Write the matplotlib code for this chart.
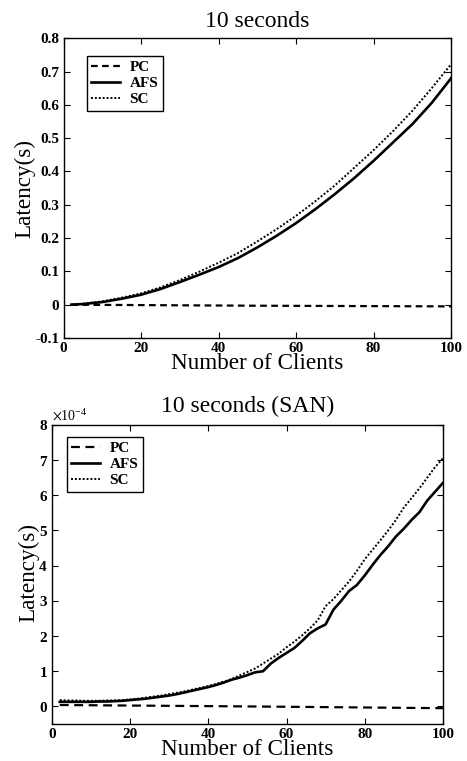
import numpy as np
import matplotlib
matplotlib.use('Agg')
import matplotlib.pyplot as plt
from matplotlib.ticker import FuncFormatter

plt.rcParams['font.family'] = ['Liberation Serif', 'DejaVu Serif']
plt.rcParams['mathtext.fontset'] = 'stix'

# top panel (10 seconds)
x_top = [2, 5, 10, 15, 20, 25, 30, 35, 40, 45, 50, 55, 60, 65, 70, 75, 80, 85, 90, 95, 100]
afs_top = [0.0, 0.002, 0.008, 0.018, 0.030, 0.047, 0.068, 0.090, 0.113, 0.140, 0.172,
           0.207, 0.245, 0.287, 0.332, 0.380, 0.432, 0.487, 0.542, 0.606, 0.680]
sc_top = [0.0, 0.003, 0.010, 0.021, 0.034, 0.052, 0.074, 0.099, 0.126, 0.155, 0.190,
          0.227, 0.267, 0.311, 0.358, 0.411, 0.464, 0.521, 0.582, 0.650, 0.722]
x_pc_top = [2, 50, 100]
pc_top = [0.0, -0.003, -0.005]

# bottom panel (10 seconds SAN), values in units of 1e-4 s
x_san = list(range(2, 101, 2))
afs_san = [0.13, 0.13, 0.13, 0.13, 0.13, 0.14, 0.14, 0.15, 0.16, 0.18,
           0.20, 0.22, 0.25, 0.28, 0.31, 0.35, 0.40, 0.45, 0.50, 0.55,
           0.61, 0.68, 0.76, 0.82, 0.89, 0.97, 1.00, 1.22, 1.38, 1.52,
           1.66, 1.86, 2.08, 2.22, 2.33, 2.75, 3.00, 3.28, 3.45, 3.72,
           4.02, 4.30, 4.55, 4.83, 5.05, 5.30, 5.52, 5.85, 6.10, 6.35]
sc_san = [0.18, 0.17, 0.17, 0.16, 0.16, 0.16, 0.17, 0.17, 0.18, 0.20,
          0.22, 0.25, 0.28, 0.31, 0.35, 0.39, 0.43, 0.48, 0.53, 0.58,
          0.64, 0.71, 0.78, 0.88, 0.98, 1.08, 1.22, 1.36, 1.50, 1.68,
          1.84, 2.02, 2.22, 2.45, 2.85, 3.05, 3.30, 3.55, 3.85, 4.18,
          4.45, 4.72, 5.00, 5.30, 5.65, 5.92, 6.20, 6.50, 6.80, 7.05]
x_pc_san = [2, 50, 100]
pc_san = [0.04, 0.0, -0.05]

labels = ['PC', 'AFS', 'SC']
xticks = [0, 20, 40, 60, 80, 100]

fig = plt.figure(figsize=(4.67, 7.61), dpi=100)
ax1 = fig.add_axes([0.136, 0.5558, 0.830, 0.394])
ax2 = fig.add_axes([0.1113, 0.0486, 0.837, 0.393])


def style(ax):
    ax.tick_params(direction='in', top=True, right=True, length=4, width=0.8,
                   labelsize=11, pad=3)
    for lab in ax.get_xticklabels() + ax.get_yticklabels():
        lab.set_fontweight('bold')
    for s in ax.spines.values():
        s.set_linewidth(1.0)


def zero_fmt(v, pos):
    if abs(v) < 1e-9:
        return '0'
    return '%g' % v


def add_legend(ax, anchor):
    leg = ax.legend(loc='upper left', bbox_to_anchor=anchor, fontsize=11,
                    frameon=True, fancybox=False, framealpha=1, edgecolor='black',
                    handlelength=1.9, handletextpad=0.6, borderpad=0.3,
                    labelspacing=0.15, borderaxespad=0)
    leg.get_frame().set_linewidth(1.0)
    for t in leg.get_texts():
        t.set_fontweight('bold')


# --- top
ax1.plot(x_pc_top, pc_top, color='black', lw=1.6, ls=(0, (3, 2)), label=labels[0])
ax1.plot(x_top, afs_top, color='black', lw=1.9, ls='-', label=labels[1])
ax1.plot(x_top, sc_top, color='black', lw=1.4, ls=(0, (1, 1)), label=labels[2])
ax1.set_xlim(0, 100)
ax1.set_ylim(-0.1, 0.8)
ax1.set_xticks(xticks)
ax1.set_yticks([-0.1, 0, 0.1, 0.2, 0.3, 0.4, 0.5, 0.6, 0.7, 0.8])
ax1.yaxis.set_major_formatter(FuncFormatter(zero_fmt))
ax1.set_title('10 seconds', fontsize=17, pad=8)
ax1.set_xlabel('Number of Clients', fontsize=16.7)
ax1.xaxis.set_label_coords(0.5, -0.05)
ax1.xaxis.label.set_va('top')
ax1.set_ylabel('Latency(s)', fontsize=16.7)
ax1.yaxis.set_label_coords(-0.074, 0.5)
style(ax1)
add_legend(ax1, (0.06, 0.94))

# --- bottom
scale = 1e-4
ax2.plot(x_pc_san, np.array(pc_san) * scale, color='black', lw=1.6, ls=(0, (4, 2.5)), label=labels[0])
ax2.plot(x_san, np.array(afs_san) * scale, color='black', lw=1.9, ls='-', label=labels[1])
ax2.plot(x_san, np.array(sc_san) * scale, color='black', lw=1.4, ls=(0, (1, 1)), label=labels[2])
ax2.set_xlim(0, 100)
ax2.set_ylim(-0.5e-4, 8e-4)
ax2.set_xticks(xticks)
ax2.set_yticks([i * scale for i in range(9)])
ax2.ticklabel_format(style='sci', axis='y', scilimits=(0, 0), useMathText=True)
ax2.yaxis.get_offset_text().set_fontsize(10)
ax2.set_title('10 seconds (SAN)', fontsize=17, pad=9.5)
ax2.set_xlabel('Number of Clients', fontsize=16.7)
ax2.xaxis.set_label_coords(0.5, -0.05)
ax2.xaxis.label.set_va('top')
ax2.set_ylabel('Latency(s)', fontsize=16.7)
ax2.yaxis.set_label_coords(-0.033, 0.505)
style(ax2)
add_legend(ax2, (0.038, 0.96))

fig.savefig('out.png', dpi=100)
